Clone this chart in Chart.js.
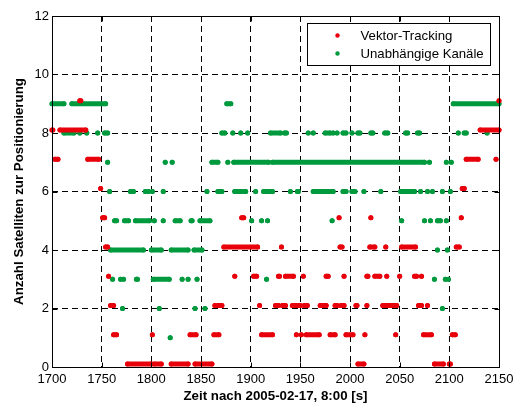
<!DOCTYPE html>
<html>
<head>
<meta charset="utf-8">
<script src="https://cdn.jsdelivr.net/npm/chart.js@4/dist/chart.umd.min.js"></script>
<style>
  html, body { margin: 0; padding: 0; background: #fff; }
  canvas { display: block; }
</style>
</head>
<body>
<canvas id="c" width="522" height="404"></canvas>
<script>
// Axis ticks
const xTicks = [1700, 1750, 1800, 1850, 1900, 1950, 2000, 2050, 2100, 2150];
const yTicks = [0, 2, 4, 6, 8, 10, 12];

const seriesNames = ['Vektor-Tracking', 'Unabhängige Kanäle'];

// Satellites used for the position fix, as runs of consecutive 1 Hz epochs:
// [number of satellites, first second, last second]
const vektorTracking = [
  [9, 1728, 1729], [9, 2150, 2150],
  [8, 1700, 1701], [8, 1708, 1734], [8, 2131, 2150],
  [7, 1703, 1706], [7, 1736, 1747], [7, 2117, 2129], [7, 2147, 2147],
  [6, 1749, 1749], [6, 2113, 2115],
  [5, 1751, 1753], [5, 1891, 1893], [5, 1989, 1989], [5, 2021, 2021], [5, 2112, 2112],
  [4, 1754, 1756], [4, 1873, 1907], [4, 1931, 1931], [4, 1990, 1992], [4, 2020, 2025],
  [4, 2036, 2036], [4, 2052, 2066], [4, 2107, 2110],
  [3, 1757, 1757], [3, 1884, 1884], [3, 1903, 1906], [3, 1928, 1929], [3, 1935, 1943],
  [3, 1953, 1953], [3, 1976, 1978], [3, 1994, 1994], [3, 2017, 2018], [3, 2025, 2030],
  [3, 2037, 2037], [3, 2050, 2050], [3, 2065, 2067], [3, 2072, 2072],
  [2, 1759, 1762], [2, 1864, 1864], [2, 1867, 1871], [2, 1909, 1909], [2, 1925, 1928],
  [2, 1932, 1935], [2, 1942, 1950], [2, 1954, 1957], [2, 1970, 1976], [2, 1985, 1987],
  [2, 1991, 1994], [2, 2006, 2007], [2, 2017, 2017], [2, 2033, 2047], [2, 2069, 2072],
  [2, 2078, 2078],
  [1, 1762, 1765], [1, 1801, 1801], [1, 1839, 1845], [1, 1863, 1868], [1, 1911, 1922],
  [1, 1946, 1946], [1, 1951, 1951], [1, 1956, 1969], [1, 1980, 1985], [1, 1996, 2003],
  [1, 2015, 2015], [1, 2046, 2046], [1, 2074, 2082], [1, 2103, 2106],
  [0, 1776, 1800], [0, 1803, 1810], [0, 1820, 1837], [0, 1844, 1861], [0, 2008, 2014],
  [0, 2085, 2094], [0, 2100, 2101]
];

const unabhaengigeKanaele = [
  [9, 1700, 1712], [9, 1720, 1754], [9, 1876, 1880], [9, 2104, 2150],
  [8, 1712, 1722], [8, 1728, 1728], [8, 1735, 1735], [8, 1746, 1746], [8, 1753, 1756],
  [8, 1871, 1874], [8, 1882, 1882], [8, 1890, 1890], [8, 1897, 1897], [8, 1920, 1930],
  [8, 1934, 1936], [8, 1958, 1958], [8, 1963, 1963], [8, 1975, 1980], [8, 1983, 1983],
  [8, 1987, 1987], [8, 1993, 1996], [8, 2002, 2002], [8, 2008, 2010], [8, 2021, 2023],
  [8, 2035, 2038], [8, 2056, 2058], [8, 2068, 2070], [8, 2109, 2109], [8, 2115, 2117],
  [8, 2138, 2138],
  [7, 1756, 1756], [7, 1814, 1814], [7, 1821, 1821], [7, 1861, 1867], [7, 1877, 1877],
  [7, 1883, 1918], [7, 1922, 2075], [7, 2080, 2080], [7, 2097, 2097], [7, 2102, 2102],
  [6, 1758, 1758], [6, 1779, 1782], [6, 1794, 1794], [6, 1797, 1797], [6, 1801, 1801],
  [6, 1812, 1812], [6, 1856, 1856], [6, 1867, 1871], [6, 1884, 1890], [6, 1893, 1895],
  [6, 1905, 1905], [6, 1913, 1922], [6, 1940, 1940], [6, 1947, 1948], [6, 1963, 1983],
  [6, 1993, 1996], [6, 2002, 2005], [6, 2014, 2014], [6, 2031, 2031], [6, 2051, 2065],
  [6, 2071, 2071], [6, 2078, 2078], [6, 2083, 2083], [6, 2093, 2093], [6, 2101, 2101],
  [5, 1763, 1765], [5, 1773, 1777], [5, 1784, 1798], [5, 1803, 1803], [5, 1812, 1812],
  [5, 1824, 1829], [5, 1840, 1841], [5, 1849, 1859], [5, 1901, 1901], [5, 1911, 1911],
  [5, 1917, 1917], [5, 1982, 1982], [5, 2052, 2052], [5, 2075, 2075], [5, 2081, 2081],
  [5, 2088, 2091], [5, 2097, 2097],
  [4, 1759, 1792], [4, 1800, 1810], [4, 1820, 1837], [4, 1843, 1851], [4, 2088, 2088],
  [4, 2098, 2098],
  [3, 1761, 1761], [3, 1769, 1769], [3, 1772, 1772], [3, 1785, 1786], [3, 1802, 1818],
  [3, 1831, 1831], [3, 1837, 1837], [3, 1846, 1846], [3, 1916, 1916], [3, 2085, 2085],
  [3, 2096, 2096], [3, 2099, 2099],
  [2, 1771, 1771], [2, 1808, 1808], [2, 1844, 1844], [2, 1854, 1854], [2, 2093, 2093],
  [1, 1819, 1819]
];

// Vector-tracking marks sit slightly above the integer level so both series stay visible
const TRACKING_SHIFT = 0.1;

const RED = '#e8000b';
const GREEN = '#009a3e';
const FONT = "'Liberation Sans', Arial, Helvetica, sans-serif";

// Each run becomes one stroke with round ends; null points split the runs apart
function runsToPoints(runs, shift) {
  const pts = [];
  runs.forEach(([n, from, to], i) => {
    if (i > 0) pts.push({ x: from, y: null });
    pts.push({ x: from, y: n + shift });
    if (to !== from) pts.push({ x: to, y: n + shift });
  });
  return pts;
}

function series(label, runs, shift, color) {
  return {
    label,
    data: runsToPoints(runs, shift),
    showLine: true,
    spanGaps: false,
    borderColor: color,
    backgroundColor: color,
    borderWidth: 5,
    borderCapStyle: 'round',
    borderJoinStyle: 'round',
    pointRadius: 2.5,
    pointBorderWidth: 0,
    pointBackgroundColor: color,
    pointHoverRadius: 2.5,
    clip: false
  };
}

// Box frame, inward tick marks and the boxed legend inside the plot
const framePlugin = {
  id: 'frame',
  afterDraw(chart) {
    const { ctx, chartArea: a, scales: { x, y } } = chart;
    const L = Math.round(a.left) + 0.5, R = Math.round(a.right) + 0.5;
    const T = Math.round(a.top) + 0.5, B = Math.round(a.bottom) + 0.5;
    ctx.save();
    ctx.strokeStyle = '#000';
    ctx.lineWidth = 1;
    ctx.setLineDash([]);
    ctx.strokeRect(L, T, R - L, B - T);
    const tl = 5;
    ctx.beginPath();
    x.ticks.forEach(t => {
      const px = Math.round(x.getPixelForValue(t.value)) + 0.5;
      ctx.moveTo(px, B); ctx.lineTo(px, B - tl);
      ctx.moveTo(px, T); ctx.lineTo(px, T + tl);
    });
    y.ticks.forEach(t => {
      const py = Math.round(y.getPixelForValue(t.value)) + 0.5;
      ctx.moveTo(L, py); ctx.lineTo(L + tl, py);
      ctx.moveTo(R, py); ctx.lineTo(R - tl, py);
    });
    ctx.stroke();

    // legend
    const bw = 183, bh = 42;
    const bx = R - 9 - bw, by = T + 7;
    ctx.fillStyle = '#fff';
    ctx.fillRect(bx, by, bw, bh);
    ctx.strokeRect(bx, by, bw, bh);
    ctx.font = '13.2px ' + FONT;
    ctx.textBaseline = 'middle';
    ctx.textAlign = 'left';
    chart.data.datasets.forEach((ds, i) => {
      const cy = by + 12 + i * 18;
      ctx.fillStyle = ds.pointBackgroundColor;
      ctx.beginPath();
      ctx.arc(bx + 30, cy, 2.2, 0, Math.PI * 2);
      ctx.fill();
      ctx.fillStyle = '#000';
      ctx.fillText(ds.label, bx + 53, cy + 0.5);
    });
    ctx.restore();
  }
};

new Chart(document.getElementById('c'), {
  type: 'scatter',
  data: {
    datasets: [
      series(seriesNames[0], vektorTracking, TRACKING_SHIFT, RED),
      series(seriesNames[1], unabhaengigeKanaele, 0, GREEN)
    ]
  },
  options: {
    responsive: false,
    animation: false,
    events: [],
    layout: { padding: { top: 16, right: 23, bottom: 0, left: 0 } },
    plugins: { legend: { display: false }, tooltip: { enabled: false } },
    scales: {
      x: {
        type: 'linear',
        min: 1700, max: 2150,
        afterBuildTicks: s => { s.ticks = xTicks.map(v => ({ value: v })); },
        afterFit: s => { s.height = 37; },
        grid: { color: '#000', lineWidth: 1, drawTicks: false, borderDash: [6, 4] },
        border: { display: false, dash: [6, 4] },
        ticks: {
          autoSkip: false, maxRotation: 0, padding: 5,
          color: '#000', font: { family: FONT, size: 13 },
          callback: v => String(v)
        },
        title: {
          display: true, text: 'Zeit nach 2005-02-17, 8:00 [s]',
          color: '#000', font: { family: FONT, size: 13.3, weight: 'bold' },
          padding: { top: 0, bottom: 0 }
        }
      },
      y: {
        type: 'linear',
        min: 0, max: 12,
        afterBuildTicks: s => { s.ticks = yTicks.map(v => ({ value: v })); },
        afterFit: s => { s.width = 52; },
        grid: { color: '#000', lineWidth: 1, drawTicks: false, borderDash: [6, 4] },
        border: { display: false, dash: [6, 4] },
        ticks: {
          autoSkip: false, padding: 3,
          color: '#000', font: { family: FONT, size: 13 },
          callback: v => String(v)
        },
        title: {
          display: true, text: 'Anzahl Satelliten zur Positionierung',
          color: '#000', font: { family: FONT, size: 13.3, weight: 'bold' },
          padding: { top: 11, bottom: 0 }
        }
      }
    }
  },
  plugins: [framePlugin]
});
</script>
</body>
</html>
